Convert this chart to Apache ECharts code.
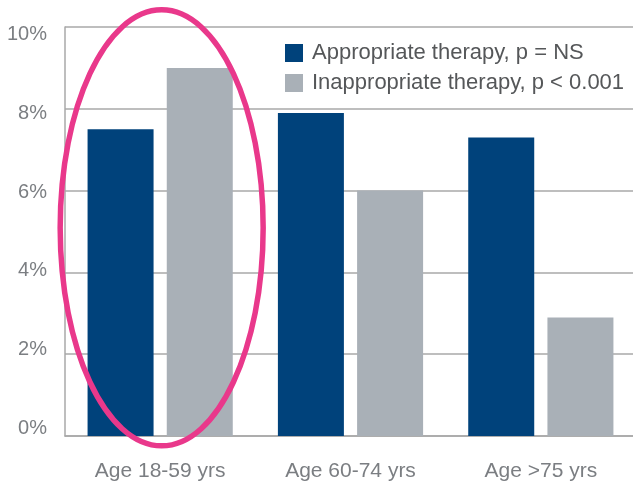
<!DOCTYPE html>
<html>
<head>
<meta charset="utf-8">
<script src="https://cdn.jsdelivr.net/npm/echarts@6/dist/echarts.min.js"></script>
<style>
  html, body { margin: 0; padding: 0; background: #fff; }
  #main { width: 633px; height: 484px; }
</style>
</head>
<body>
<div id="main"></div>
<script>
  var categories = ['Age 18-59 yrs', 'Age 60-74 yrs', 'Age >75 yrs'];
  var seriesNames = ['Appropriate therapy, p = NS', 'Inappropriate therapy, p < 0.001'];
  var appropriate = [7.5, 7.9, 7.3];
  var inappropriate = [9.0, 6.0, 2.9];
  var tickValues = [0, 2, 4, 6, 8, 10];

  var gridColor = '#a8a8a8';
  var labelColor = '#7b7e82';
  var font = '"Liberation Sans", Arial, sans-serif';

  var myChart = echarts.init(document.getElementById('main'));

  var option = {
    animation: false,
    color: ['#00427b', '#a9b0b7'],
    grid: {
      left: 65,
      right: -3,
      top: 27,
      bottom: 48,
      outerBoundsMode: 'none'
    },
    legend: {
      orient: 'vertical',
      left: 280,
      top: 37,
      icon: 'rect',
      itemWidth: 18,
      itemHeight: 18,
      itemGap: 8,
      data: seriesNames,
      textStyle: {
        color: '#555759',
        fontSize: 22,
        fontFamily: font,
        padding: [0, 0, 0, 4]
      }
    },
    xAxis: {
      type: 'category',
      data: categories,
      axisTick: { show: false },
      axisLine: { show: true, lineStyle: { color: gridColor, width: 1.5 } },
      axisLabel: {
        color: labelColor,
        fontSize: 21,
        fontFamily: font,
        margin: 25
      }
    },
    yAxis: [
      {
        // scale, grid lines and axis line
        type: 'value',
        min: 0,
        max: 10,
        interval: 2,
        axisLine: { show: true, lineStyle: { color: gridColor, width: 1.5 } },
        axisTick: { show: false },
        axisLabel: { show: false },
        splitLine: { show: true, lineStyle: { color: gridColor, width: 1.5 } }
      },
      {
        // tick labels only (they sit slightly off the grid lines in the original)
        type: 'value',
        position: 'left',
        min: -0.18,
        max: 10.18,
        axisLine: { show: false },
        axisTick: { show: false },
        splitLine: { show: false },
        axisLabel: {
          customValues: tickValues,
          formatter: '{value}%',
          color: labelColor,
          fontSize: 20,
          fontFamily: font,
          margin: 18
        }
      }
    ],
    series: [
      {
        name: seriesNames[0],
        type: 'bar',
        yAxisIndex: 0,
        barWidth: 66,
        barGap: '20%',
        data: appropriate
      },
      {
        name: seriesNames[1],
        type: 'bar',
        yAxisIndex: 0,
        barWidth: 66,
        barGap: '20%',
        data: inappropriate
      }
    ]
  };

  myChart.setOption(option);

  // pink ellipse round the first age group
  var ellTop = myChart.convertToPixel({ xAxisIndex: 0, yAxisIndex: 0 }, [0, 10.42]);
  var ellBottom = myChart.convertToPixel({ xAxisIndex: 0, yAxisIndex: 0 }, [0, -0.24]);
  myChart.setOption({
    graphic: [{
      type: 'ellipse',
      z: 100,
      shape: {
        cx: ellTop[0] + 1.5,
        cy: (ellTop[1] + ellBottom[1]) / 2,
        rx: 101.5,
        ry: (ellBottom[1] - ellTop[1]) / 2
      },
      style: {
        fill: 'none',
        stroke: '#e9388b',
        lineWidth: 5.5
      }
    }]
  });
</script>
</body>
</html>
